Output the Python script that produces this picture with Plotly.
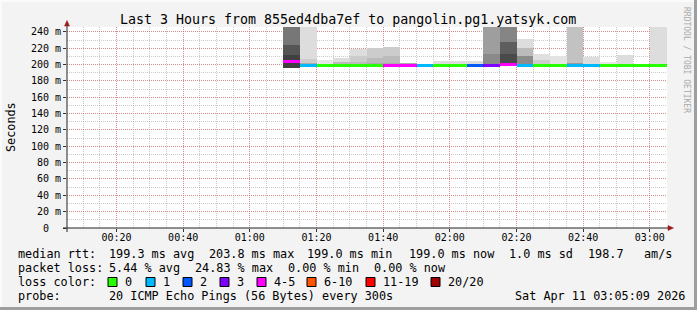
import plotly.graph_objects as go

# ---------------- data ----------------
bar_start = [70, 75, 80, 85, 90, 95, 100, 105, 110, 115, 120, 125,
             130, 135, 140, 145, 150, 155, 160, 165, 170, 175, 180]
median = [203.8, 199.0, 199.2, 199.2, 199.3, 199.3, 199.0, 199.0, 199.0, 199.2, 199.2, 199.0,
          199.3, 200.5, 199.2, 199.2, 199.2, 199.0, 199.0, 199.2, 199.2, 199.2, 199.2]
loss_idx = [4, 1, 0, 0, 0, 0, 4, 4, 1, 0, 0, 2, 3, 4, 1, 0, 0, 1, 1, 0, 0, 0, 0]

smoke_lo = [196, 198, 198.5, 198.5, 198.5, 197, 198, 198, 198.5, 198.5, 198.5, 198.5,
            198, 198, 198, 198.5, 198.5, 198, 197.5, 198.5, 198.5, 198.5, 198.5]
smoke_b1 = [212, 202, 201, 203, 203, 202, 202, 200, 198.5, 201, 201, 201,
            213, 213, 210.5, 206, 201, 202, 201, 198.5, 201, 198.5, 201]
smoke_b2 = [224, 207, 201, 203, 210, 208, 210, 200, 198.5, 201, 201, 201,
            213, 228, 220.7, 206, 201, 202, 201, 198.5, 201, 198.5, 201]
smoke_hi = [250, 250, 206, 208, 218.5, 220.5, 221, 201.5, 201, 205, 205, 204.5,
            250, 250, 231, 213, 211, 250, 209.5, 203.5, 211.5, 200.8, 250]
shade_lo = ["#404040", "#aaaaaa", "#cccccc", "#bbbbbb", "#bbbbbb", "#aaaaaa", "#aaaaaa", "#999999",
            "#dddddd", "#cccccc", "#cccccc", "#cccccc", "#8a8a8a", "#4a4a4a", "#8c8c8c", "#cccccc",
            "#cccccc", "#999999", "#888888", "#e6e6e6", "#cccccc", "#dddddd", "#cccccc"]
shade_mid = ["#555555", "#cccccc", "#dddddd", "#dddddd", "#cccccc", "#bbbbbb", "#bbbbbb", "#aaaaaa",
             "#dddddd", "#dddddd", "#dddddd", "#dddddd", "#9e9e9e", "#5e5e5e", "#bbbbbb", "#e0e0e0",
             "#e3e3e3", "#c2c2c2", "#dddddd", "#e6e6e6", "#dddddd", "#dddddd", "#dddddd"]
shade_hi = ["#777777", "#dddddd", "#e6e6e6", "#dddddd", "#dddddd", "#cccccc", "#cccccc", "#aaaaaa",
            "#dddddd", "#dddddd", "#dddddd", "#dddddd", "#9e9e9e", "#858585", "#dddddd", "#e0e0e0",
            "#e3e3e3", "#c2c2c2", "#dddddd", "#e6e6e6", "#dddddd", "#dddddd", "#dddddd"]

loss_labels = ["0", "1", "2", "3", "4-5", "6-10", "11-19", "20/20"]
loss_colors = ["#26ff00", "#00b8ff", "#0059ff", "#7e00ff", "#ff00ff", "#ff5500", "#ff0000", "#a10000"]

tick_vals = [20, 40, 60, 80, 100, 120, 140, 160, 180]
tick_text = ["00:20", "00:40", "01:00", "01:20", "01:40", "02:00", "02:20", "02:40", "03:00"]
y_tick_vals = [0, 20, 40, 60, 80, 100, 120, 140, 160, 180, 200, 220, 240]
y_tick_text = ["0\u00a0\u00a0", "20 m", "40 m", "60 m", "80 m", "100 m", "120 m", "140 m", "160 m",
               "180 m", "200 m", "220 m", "240 m"]

title_text = "Last 3 Hours from 855ed4dba7ef to pangolin.pg1.yatsyk.com"
rtt_items = ["median rtt:", "199.3 ms avg", "203.8 ms max", "199.0 ms min", "199.0 ms now",
             "1.0 ms sd", "198.7", "am/s"]
loss_items = ["packet loss:", "5.44 % avg", "24.83 % max", "0.00 % min", "0.00 % now"]
probe_items = ["probe:", "20 ICMP Echo Pings (56 Bytes) every 300s", "Sat Apr 11 03:05:09 2026"]

# ---------------- layout helpers ----------------
W, H = 697, 310
L, R, T, B = 67, 30, 27, 82
PW, PH = W - L - R, H - T - B
X0, X1 = 5.15, 185.15
Y0, Y1 = 0, 246


def pxx(x):
    return (x - L) / PW


def pxy(y):
    return (H - B - y) / PH


MONO = "DejaVu Sans Mono"

fig = go.Figure()

bar_w = [5] * len(bar_start)
for lo_arr, hi_arr, col in [(smoke_lo, smoke_b1, shade_lo),
                            (smoke_b1, smoke_b2, shade_mid),
                            (smoke_b2, smoke_hi, shade_hi)]:
    fig.add_trace(go.Bar(
        x=bar_start, base=lo_arr, y=[h - l for l, h in zip(lo_arr, hi_arr)],
        width=bar_w, offset=0, marker=dict(color=col, line=dict(width=0)),
        showlegend=False, hoverinfo="skip"))

line_thick = 3.4
fig.add_trace(go.Bar(
    x=bar_start, base=[m - line_thick / 2 for m in median], y=[line_thick] * len(median),
    width=bar_w, offset=0,
    marker=dict(color=[loss_colors[i] for i in loss_idx], line=dict(width=0)),
    showlegend=False, hoverinfo="skip"))

mgrid = "rgba(225,90,90,0.55)"
ngrid = "rgba(150,150,150,0.5)"

fig.update_layout(
    width=W, height=H, margin=dict(l=L, r=R, t=T, b=B, pad=0),
    paper_bgcolor="#f3f3f3", plot_bgcolor="#ffffff",
    barmode="overlay", bargap=0,
    font=dict(family=MONO, size=10, color="#000000"),
    xaxis=dict(range=[X0, X1], tickmode="array", tickvals=tick_vals, ticktext=tick_text,
               showgrid=True, gridcolor=mgrid, griddash="1px,1px", gridwidth=1,
               ticks="outside", ticklen=3, tickcolor="#333333", zeroline=False, showline=False,
               ticklabelstandoff=-3,
               tickfont=dict(family=MONO, size=10),
               minor=dict(tickmode="linear", tick0=0, dtick=5, showgrid=True,
                          gridcolor=ngrid, griddash="1px,1px", gridwidth=1, ticks="")),
    yaxis=dict(range=[Y0, Y1], tickmode="array", tickvals=y_tick_vals, ticktext=y_tick_text,
               showgrid=True, gridcolor=mgrid, griddash="1px,1px", gridwidth=1,
               ticks="outside", ticklen=3, tickcolor="#333333", zeroline=False, showline=False,
               tickfont=dict(family=MONO, size=10),
               minor=dict(tickmode="linear", tick0=0, dtick=10, showgrid=True,
                          gridcolor=ngrid, griddash="1px,1px", gridwidth=1, ticks="")),
)

shapes = []
# axis lines
shapes.append(dict(type="line", xref="paper", yref="paper", x0=pxx(63), x1=pxx(668),
                   y0=pxy(228), y1=pxy(228), line=dict(color="#222222", width=1)))
shapes.append(dict(type="line", xref="paper", yref="paper", x0=pxx(67), x1=pxx(67),
                   y0=pxy(232), y1=pxy(25), line=dict(color="#222222", width=1)))
# arrows
ay = f"M {pxx(64.5)} {pxy(26)} L {pxx(67)} {pxy(20.5)} L {pxx(69.5)} {pxy(26)} Z"
ax = f"M {pxx(668)} {pxy(225.5)} L {pxx(673.5)} {pxy(228)} L {pxx(668)} {pxy(230.5)} Z"
for p in (ay, ax):
    shapes.append(dict(type="path", xref="paper", yref="paper", path=p,
                       fillcolor="#9b1b1b", line=dict(color="#9b1b1b", width=0.5)))
# frame
shapes.append(dict(type="rect", xref="paper", yref="paper", x0=pxx(694), x1=pxx(697),
                   y0=pxy(310), y1=pxy(0), fillcolor="#9e9e9e", line=dict(width=0)))
shapes.append(dict(type="rect", xref="paper", yref="paper", x0=pxx(0), x1=pxx(697),
                   y0=pxy(310), y1=pxy(307), fillcolor="#9e9e9e", line=dict(width=0)))
shapes.append(dict(type="rect", xref="paper", yref="paper", x0=pxx(0), x1=pxx(694),
                   y0=pxy(2), y1=pxy(0), fillcolor="#fbfbfb", line=dict(width=0)))
shapes.append(dict(type="rect", xref="paper", yref="paper", x0=pxx(0), x1=pxx(2),
                   y0=pxy(307), y1=pxy(0), fillcolor="#fbfbfb", line=dict(width=0)))

annotations = []


def text(t, x, y, size=11.8, xanchor="left", color="#000000", angle=0):
    annotations.append(dict(text=t, x=pxx(x), y=pxy(y), xref="paper", yref="paper",
                            xanchor=xanchor, yanchor="middle", showarrow=False,
                            textangle=angle,
                            font=dict(family=MONO, size=size, color=color)))


text(title_text, 348, 19.5, size=13.3, xanchor="center")
text("Seconds", 11, 127, size=11.8, xanchor="center", angle=-90)
text("RRDTOOL / TOBI OETIKER", 687, 60, size=8, xanchor="center", color="#aaaaaa", angle=90)

for t, x in zip(rtt_items, [16, 107, 207, 305, 407, 507, 586, 642]):
    text(t, x, 254)
for t, x in zip(loss_items, [16, 107, 193, 286, 372]):
    text(t, x, 268)
text("loss color:", 16, 282)
box_x = [108, 146, 183, 220, 257, 307, 366, 431]
for lab, col, bx in zip(loss_labels, loss_colors, box_x):
    shapes.append(dict(type="rect", xref="paper", yref="paper", x0=pxx(bx), x1=pxx(bx + 9),
                       y0=pxy(286.5), y1=pxy(277.5), fillcolor=col,
                       line=dict(color="#000000", width=1)))
    text(lab, bx + 15, 282)
for t, x in zip(probe_items, [16, 107, 513]):
    text(t, x, 296)

fig.update_layout(shapes=shapes, annotations=annotations)
fig.write_html("out.html")
